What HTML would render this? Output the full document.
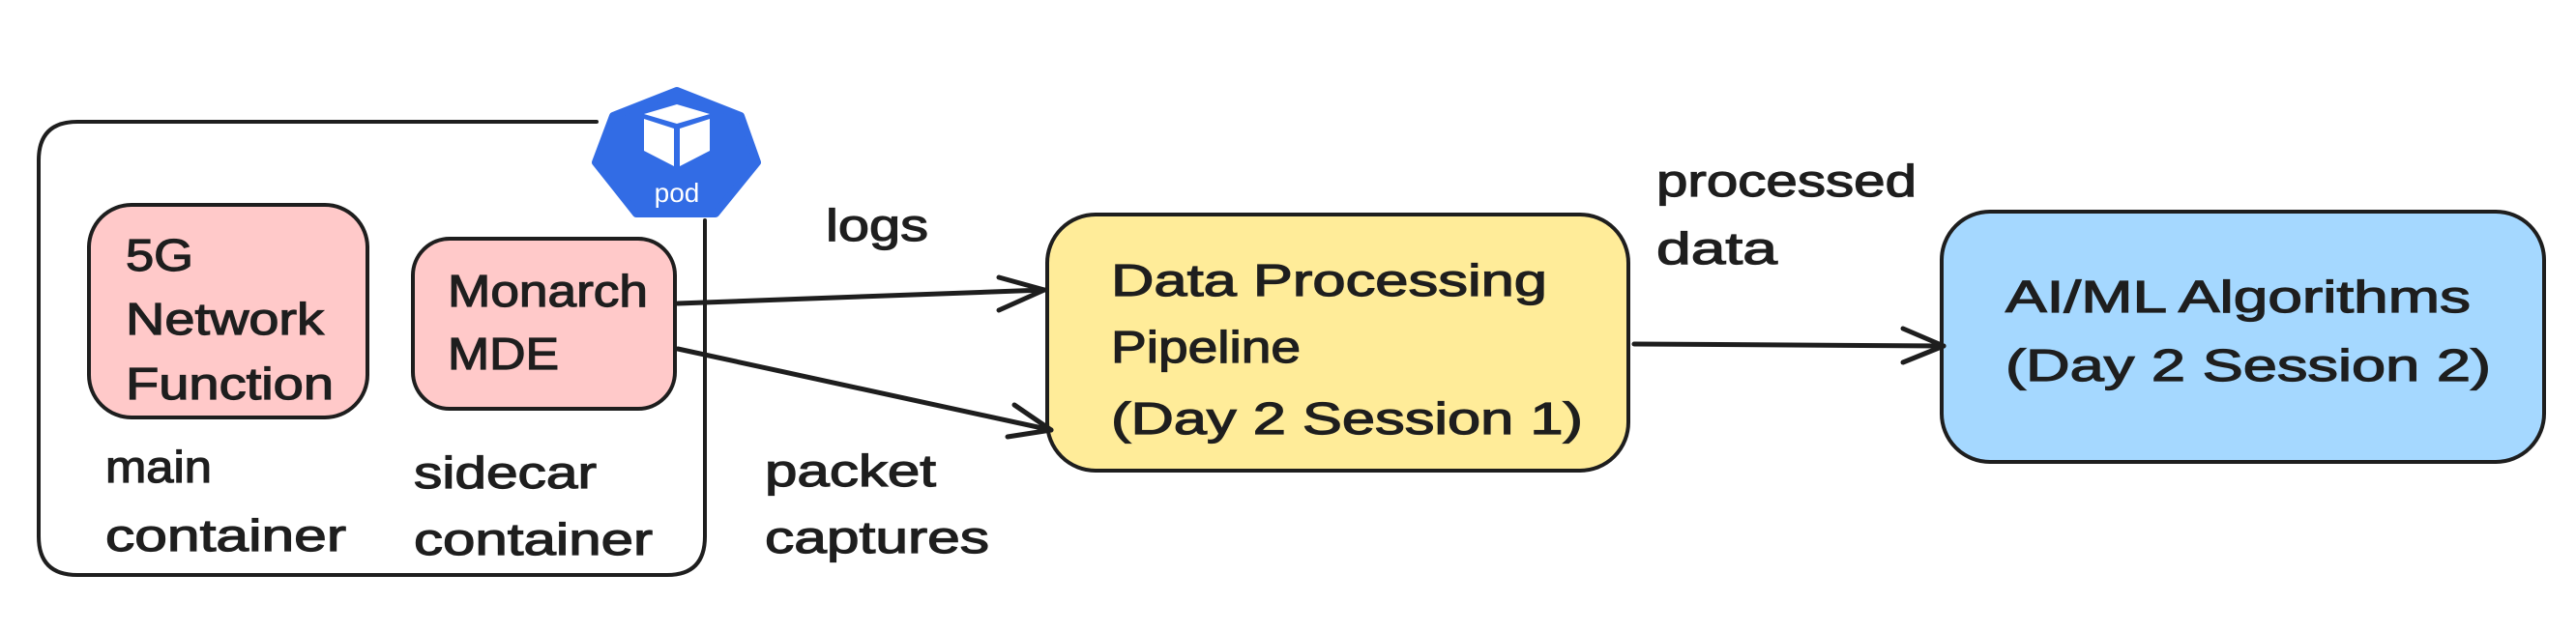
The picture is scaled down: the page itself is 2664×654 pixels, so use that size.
<!DOCTYPE html>
<html><head><meta charset="utf-8"><style>
html,body{margin:0;padding:0;background:#fff;}
svg{display:block;}
text{font-family:"Liberation Sans",sans-serif;fill:#1e1e1e;font-size:46px;stroke:#1e1e1e;stroke-width:1.2px;}
</style></head><body>
<svg width="2664" height="654" viewBox="0 0 2664 654" xmlns="http://www.w3.org/2000/svg">
<g fill="none" stroke="#1e1e1e" stroke-width="4" stroke-linecap="round" stroke-linejoin="round">
<path d="M617 126 L80 126 Q40 126 40 166 L40 555 Q40 595 80 595 L690 595 Q729 595 729 555 L729 228"/>
</g>
<rect x="92" y="212" width="288" height="220" rx="44" fill="#ffc9c9" stroke="#1e1e1e" stroke-width="4"/>
<rect x="427" y="247" width="271" height="176" rx="38" fill="#ffc9c9" stroke="#1e1e1e" stroke-width="4"/>
<rect x="1083" y="222" width="601" height="265" rx="50" fill="#ffec99" stroke="#1e1e1e" stroke-width="4"/>
<rect x="2008" y="219" width="623" height="259" rx="50" fill="#a5d8ff" stroke="#1e1e1e" stroke-width="4"/>
<!-- pod icon -->
<polygon points="700,94 766,120 783,168 740,221 658,221 616,168 634,120" fill="#326ce5" stroke="#326ce5" stroke-width="8" stroke-linejoin="round"/>
<polygon points="666,118 700,108 734,118 700,128" fill="#fff"/>
<polygon points="666,123 697,133 697,172 666,156" fill="#fff"/>
<polygon points="703,133 734,123 734,156 703,172" fill="#fff"/>
<text x="700" y="209" text-anchor="middle" style="fill:#fff;stroke:none;font-size:28px">pod</text>
<!-- arrows -->
<g fill="none" stroke="#1e1e1e" stroke-width="5" stroke-linecap="round" stroke-linejoin="round">
<path d="M701 314 L1080 300"/><path d="M1033 287 L1080 300 L1033 321"/>
<path d="M701 361 L1087 445"/><path d="M1049 419 L1087 445 L1042 452"/>
<path d="M1690 356 L2010 358"/><path d="M1968 340 L2010 358 L1968 375"/>
</g>
<text x="130" y="280" textLength="70" lengthAdjust="spacingAndGlyphs">5G</text>
<text x="130" y="346" textLength="205" lengthAdjust="spacingAndGlyphs">Network</text>
<text x="130" y="413" textLength="215" lengthAdjust="spacingAndGlyphs">Function</text>
<text x="463" y="317" textLength="207" lengthAdjust="spacingAndGlyphs">Monarch</text>
<text x="463" y="382" textLength="115" lengthAdjust="spacingAndGlyphs">MDE</text>
<text x="109" y="499" textLength="110" lengthAdjust="spacingAndGlyphs">main</text>
<text x="109" y="570" textLength="249" lengthAdjust="spacingAndGlyphs">container</text>
<text x="428" y="505" textLength="189" lengthAdjust="spacingAndGlyphs">sidecar</text>
<text x="428" y="574" textLength="247" lengthAdjust="spacingAndGlyphs">container</text>
<text x="854" y="249" textLength="106" lengthAdjust="spacingAndGlyphs">logs</text>
<text x="791" y="503" textLength="177" lengthAdjust="spacingAndGlyphs">packet</text>
<text x="791" y="572" textLength="232" lengthAdjust="spacingAndGlyphs">captures</text>
<text x="1149" y="306" textLength="451" lengthAdjust="spacingAndGlyphs">Data Processing</text>
<text x="1149" y="375" textLength="196" lengthAdjust="spacingAndGlyphs">Pipeline</text>
<text x="1149" y="449" textLength="488" lengthAdjust="spacingAndGlyphs">(Day 2 Session 1)</text>
<text x="1713" y="203" textLength="269" lengthAdjust="spacingAndGlyphs">processed</text>
<text x="1713" y="273" textLength="125" lengthAdjust="spacingAndGlyphs">data</text>
<text x="2074" y="323" textLength="481" lengthAdjust="spacingAndGlyphs">AI/ML Algorithms</text>
<text x="2074" y="394" textLength="502" lengthAdjust="spacingAndGlyphs">(Day 2 Session 2)</text>
</svg>
</body></html>
